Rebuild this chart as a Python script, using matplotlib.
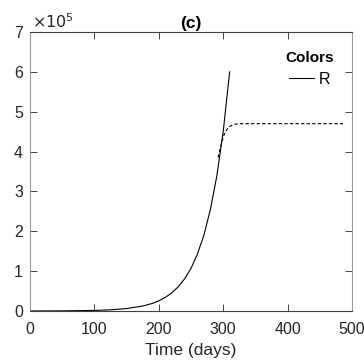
import matplotlib
matplotlib.use('Agg')
import matplotlib.pyplot as plt

plt.rcParams['font.family'] = ['Liberation Sans', 'DejaVu Sans']

# solid curve R (values in units of 1e5)
t_solid = [0, 50, 100, 125, 150, 175, 190, 200, 210, 220, 230, 240, 250, 260,
           270, 280, 290, 300, 310]
r_solid = [0.0008, 0.0035, 0.0145, 0.030, 0.061, 0.125, 0.19, 0.255, 0.34, 0.453,
           0.604, 0.805, 1.07, 1.43, 1.90, 2.54, 3.38, 4.50, 6.00]

# dashed curve (values in units of 1e5)
t_dash = [292, 295, 298, 302, 306, 310, 315, 320, 330, 340, 360, 400, 450, 486]
r_dash = [3.85, 4.05, 4.25, 4.45, 4.56, 4.63, 4.67, 4.69, 4.70, 4.70, 4.70, 4.70,
          4.70, 4.70]

scale = 1e5

fig = plt.figure(figsize=(3.64, 3.63), dpi=100)
ax = fig.add_axes([30/364, 52/363, 322/364, 279/363])

ax.plot(t_solid, [v * scale for v in r_solid], color='k', lw=0.8, label='R')
ax.plot(t_dash, [v * scale for v in r_dash], color='k', lw=0.8, ls=(0, (3, 2)))

ax.set_xlim(0, 500)
ax.set_ylim(0, 7e5)
ax.set_xticks([0, 100, 200, 300, 400, 500])
ax.set_yticks([i * scale for i in range(8)])
ax.set_yticklabels([str(i) for i in range(8)])
ax.tick_params(direction='in', top=True, right=True, length=5, width=0.6,
               labelsize=11.5, colors='#262626')
ax.tick_params(axis='x', pad=8)
ax.tick_params(axis='y', pad=5)
for lbl in ax.get_xticklabels() + ax.get_yticklabels():
    lbl.set_color('#262626')
for s in ['top', 'bottom']:
    ax.spines[s].set_color('#404040')
    ax.spines[s].set_linewidth(0.8)
for s in ['left', 'right']:
    ax.spines[s].set_color('#9a9a9a')
    ax.spines[s].set_linewidth(0.8)

ax.set_xlabel('Time (days)', fontsize=12.5, color='#262626', labelpad=4)
ax.set_title('(c)', fontsize=12.5, fontweight='bold', pad=3)
ax.text(0.005, 1.005, r'$\times10^5$', transform=ax.transAxes, fontsize=11.5,
        ha='left', va='bottom', color='#262626')

leg = ax.legend(loc='upper right', frameon=False, title='Colors',
                fontsize=11.5, handlelength=1.6, handletextpad=0.3,
                bbox_to_anchor=(0.988, 0.985), labelspacing=0.45)
leg.get_title().set_fontweight('bold')
leg.get_title().set_fontsize(11)

fig.savefig('out.png', dpi=100)
